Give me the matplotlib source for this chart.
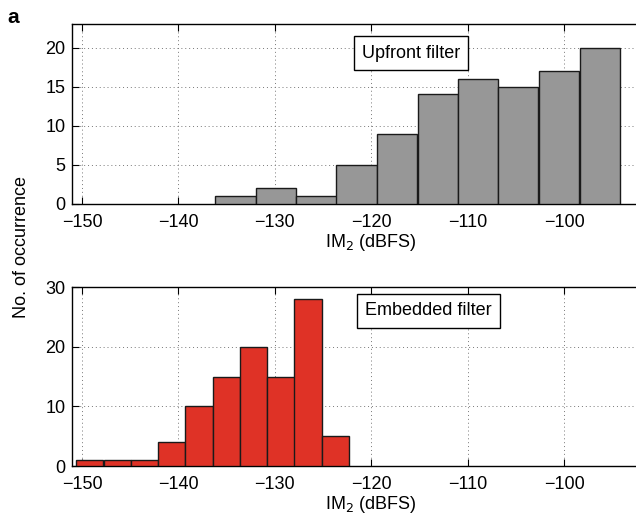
import matplotlib
matplotlib.use("Agg")
import matplotlib.pyplot as plt

plt.rcParams['font.family'] = ['Liberation Sans', 'DejaVu Sans']

# upfront filter histogram (bin centres, counts)
up_centers = [-134.1, -129.9, -125.7, -121.55, -117.35, -113.1, -108.95, -104.8, -100.55, -96.3]
up_counts = [1, 2, 1, 5, 9, 14, 16, 15, 17, 20]
up_width = 4.2

# embedded filter histogram
emb_centers = [-149.2, -146.35, -143.5, -140.7, -137.85, -135.0, -132.2, -129.35, -126.55, -123.7]
emb_counts = [1, 1, 1, 4, 10, 15, 20, 15, 28, 5]
emb_width = 2.83

xticks = [-150, -140, -130, -120, -110, -100]

fig = plt.figure(figsize=(6.36, 5.2), dpi=100)
ax1 = fig.add_axes([0.1137, 0.6077, 0.94, 0.346])
ax2 = fig.add_axes([0.1137, 0.1038, 0.94, 0.344])

def style(ax, ylim, yticks):
    ax.set_xlim(-151, -89)
    ax.set_ylim(*ylim)
    ax.set_xticks(xticks)
    ax.set_yticks(yticks)
    ax.tick_params(direction='in', top=True, right=True, length=5, width=0.8,
                   labelsize=13)
    ax.tick_params(axis='x', pad=7)
    ax.tick_params(axis='y', pad=5)
    ax.grid(True, linestyle=(0, (1, 3)), color='#777777', linewidth=0.7)
    ax.set_axisbelow(True)
    for s in ax.spines.values():
        s.set_linewidth(1.0)
    ax.set_xlabel('IM$_2$ (dBFS)', fontsize=13, labelpad=1)

ax1.bar(up_centers, up_counts, width=up_width, color='#979797',
        edgecolor='#1a1a1a', linewidth=1.0, zorder=3)
style(ax1, (0, 23), [0, 5, 10, 15, 20])
ax1.text(-115.9, 19.3, 'Upfront filter', fontsize=13, ha='center', va='center',
         bbox=dict(boxstyle='square,pad=0.45', facecolor='white', edgecolor='black', linewidth=1.0),
         zorder=5)

ax2.bar(emb_centers, emb_counts, width=emb_width, color='#df3226',
        edgecolor='#1a1a1a', linewidth=1.0, zorder=3)
style(ax2, (0, 30), [0, 10, 20, 30])
ax2.text(-114.1, 26.0, 'Embedded filter', fontsize=13, ha='center', va='center',
         bbox=dict(boxstyle='square,pad=0.45', facecolor='white', edgecolor='black', linewidth=1.0),
         zorder=5)

fig.text(0.034, 0.525, 'No. of occurrence', rotation=90, fontsize=13,
         ha='center', va='center')
fig.text(0.012, 0.985, 'a', fontsize=15, fontweight='bold', ha='left', va='top')

fig.savefig('out.png', dpi=100)
